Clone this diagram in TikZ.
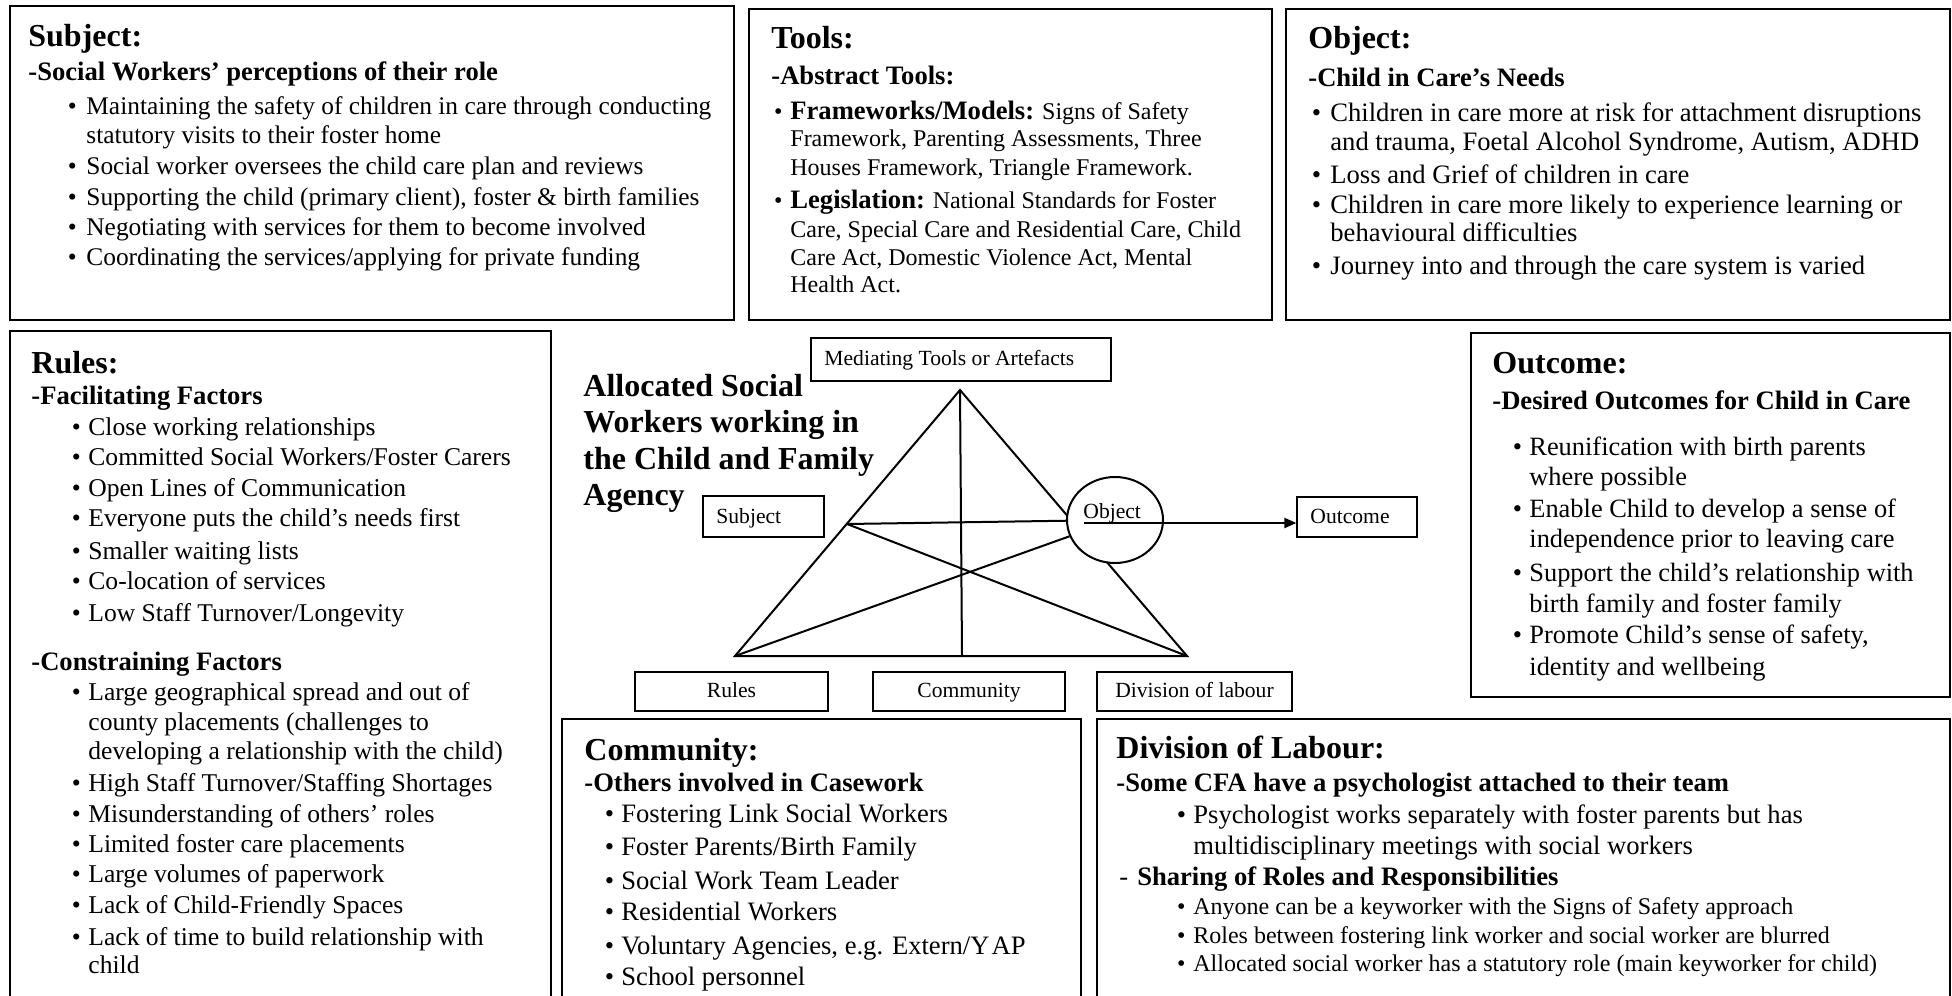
\documentclass[tikz,border=0pt]{standalone}
\usepackage{fontspec}
\setmainfont{Liberation Serif}
\usetikzlibrary{arrows.meta,shapes.geometric,fit}

\pgfdeclarelayer{background}
\pgfsetlayers{background,main}

% one picture unit
\newdimen\px \px=0.5pt
\newcommand{\fs}[1]{\fontsize{#1}{#1}\selectfont}
\newcommand{\hd}{\fs{16}\bfseries}
\newcommand{\sbt}{\fs{13.3}\bfseries}
% text line: gap to previous baseline, indent, content
\newcommand{\Ln}[3]{\vskip#1\px\hbox{\hskip#2\px\smash{#3}}}
% bulleted line: gap, bullet centre, text indent, content
\newcommand{\Bl}[4]{\vskip#1\px\hbox{\hskip#2\px\smash{\makebox[0pt]{\textbullet}}\hskip\dimexpr#3\px-#2\px\relax\smash{#4}}}
\newcommand{\Blk}[1]{\vtop{\offinterlineskip#1}}

\tikzset{
  bigbox/.style={draw, line width=1.1pt, inner sep=0pt},
  smallbox/.style={draw, line width=0.6pt, inner sep=0pt},
  tri/.style={line width=1pt},
  txt/.style={inner sep=0pt, anchor=base west},
  lbl/.style={inner sep=0pt, font=\fs{10.8}},
}

\begin{document}
\begin{tikzpicture}[x=0.5pt,y=-0.5pt,line join=miter]
\useasboundingbox (0,0) rectangle (1952,995);
\begin{pgfonlayer}{background}
\fill[white] (0,0) rectangle (1952,995);
\end{pgfonlayer}

\begin{scope}
\clip (0,0) rectangle (1952,995);
% ---------- frames ----------
\node[bigbox, fit={(10,6)(734,320)}] (subjbox) {};
\node[bigbox, fit={(749,9)(1272,320)}] (toolbox) {};
\node[bigbox, fit={(1286,9)(1950,320)}] (objbox) {};
\node[bigbox, fit={(10,331)(551,1010)}] (rulebox) {};
\node[bigbox, fit={(1471,333)(1950,697)}] (outbox) {};
\node[bigbox, fit={(562,719)(1081,1010)}] (commbox) {};
\node[bigbox, fit={(1097,719)(1950,1010)}] (divbox) {};
\end{scope}

% ---------- Subject ----------
\node[txt] (subjtext) at (28,47) {\Blk{\fs{12.7}
  \Ln{0}{0}{\hd Subject:}
  \Ln{34}{0}{\sbt -Social Workers’ perceptions of their role}
  \Bl{33}{44}{58}{Maintaining the safety of children in care through conducting}
  \Ln{29}{58}{statutory visits to their foster home}
  \Bl{31}{44}{58}{Social worker oversees the child care plan and reviews}
  \Bl{31}{44}{58}{Supporting the child (primary client), foster \& birth families}
  \Bl{30}{44}{58}{Negotiating with services for them to become involved}
  \Bl{30}{44}{58}{Coordinating the services/applying for private funding}
}};

% ---------- Tools ----------
\node[txt] (tooltext) at (771,49) {\Blk{\fs{12}
  \Ln{0}{0}{\hd Tools:}
  \Ln{36}{0}{\sbt -Abstract Tools:}
  \Bl{35}{7}{19}{{\sbt Frameworks/Models:} Signs of Safety}
  \Ln{27}{19}{Framework, Parenting Assessments, Three}
  \Ln{28}{19}{Houses Framework, Triangle Framework.}
  \Bl{34}{7}{19}{{\sbt Legislation:} National Standards for Foster}
  \Ln{28}{19}{Care, Special Care and Residential Care, Child}
  \Ln{28}{19}{Care Act, Domestic Violence Act, Mental}
  \Ln{27}{19}{Health Act.}
}};

% ---------- Object ----------
\node[txt] (objtext) at (1308,49) {\Blk{\fs{13.3}
  \Ln{0}{0}{\hd Object:}
  \Ln{38}{0}{\sbt -Child in Care’s Needs}
  \Bl{34}{8}{22}{Children in care more at risk for attachment disruptions}
  \Ln{30}{22}{and trauma, Foetal Alcohol Syndrome, Autism, ADHD}
  \Bl{32}{8}{22}{Loss and Grief of children in care}
  \Bl{30}{8}{22}{Children in care more likely to experience learning or}
  \Ln{29}{22}{behavioural difficulties}
  \Bl{32}{8}{22}{Journey into and through the care system is varied}
}};

% ---------- Rules ----------
\node[txt] (ruletext) at (31,373) {\Blk{\fs{12.8}
  \Ln{0}{0}{\hd Rules:}
  \Ln{31}{0}{\sbt -Facilitating Factors}
  \Bl{31}{45}{57}{Close working relationships}
  \Bl{30}{45}{57}{Committed Social Workers/Foster Carers}
  \Bl{31}{45}{57}{Open Lines of Communication}
  \Bl{30}{45}{57}{Everyone puts the child’s needs first}
  \Bl{33}{45}{57}{Smaller waiting lists}
  \Bl{30}{45}{57}{Co-location of services}
  \Bl{32}{45}{57}{Low Staff Turnover/Longevity}
  \Ln{49}{0}{\sbt -Constraining Factors}
  \Bl{30}{45}{57}{Large geographical spread and out of}
  \Ln{30}{57}{county placements (challenges to}
  \Ln{29}{57}{developing a relationship with the child)}
  \Bl{32}{45}{57}{High Staff Turnover/Staffing Shortages}
  \Bl{31}{45}{57}{Misunderstanding of others’ roles}
  \Bl{30}{45}{57}{Limited foster care placements}
  \Bl{30}{45}{57}{Large volumes of paperwork}
  \Bl{31}{45}{57}{Lack of Child-Friendly Spaces}
  \Bl{32}{45}{57}{Lack of time to build relationship with}
  \Ln{28}{57}{child}
}};

% ---------- Outcome ----------
\node[txt] (outtext) at (1492,373) {\Blk{\fs{13.2}
  \Ln{0}{0}{\hd Outcome:}
  \Ln{36}{0}{\sbt -Desired Outcomes for Child in Care}
  \Bl{46}{25}{37}{Reunification with birth parents}
  \Ln{30}{37}{where possible}
  \Bl{32}{25}{37}{Enable Child to develop a sense of}
  \Ln{30}{37}{independence prior to leaving care}
  \Bl{34}{25}{37}{Support the child’s relationship with}
  \Ln{31}{37}{birth family and foster family}
  \Bl{31}{25}{37}{Promote Child’s sense of safety,}
  \Ln{32}{37}{identity and wellbeing}
}};

% ---------- Community ----------
\node[txt] (commtext) at (584,760) {\Blk{\fs{13.3}
  \Ln{0}{0}{\hd Community:}
  \Ln{31}{0}{\sbt -Others involved in Casework}
  \Bl{31}{25}{37}{Fostering Link Social Workers}
  \Bl{33}{25}{37}{Foster Parents/Birth Family}
  \Bl{34}{25}{37}{Social Work Team Leader}
  \Bl{31}{25}{37}{Residential Workers}
  \Bl{34}{25}{37}{Voluntary Agencies, e.g. Extern/Y\kern1pt AP}
  \Bl{31}{25}{37}{School personnel}
}};

% ---------- Division of Labour ----------
\node[txt] (divtext) at (1116,758) {\Blk{\fs{13.3}
  \Ln{0}{0}{\hd Division of Labour:}
  \Ln{33}{0}{\sbt -Some CFA have a psychologist attached to their team}
  \Bl{32}{65}{77}{Psychologist works separately with foster parents but has}
  \Ln{31}{77}{multidisciplinary meetings with social workers}
  \Ln{31}{3}{-\hskip9\px{\bfseries Sharing of Roles and Responsibilities}}
  \fs{12}
  \Bl{29}{65}{77}{Anyone can be a keyworker with the Signs of Safety approach}
  \Bl{29}{65}{77}{Roles between fostering link worker and social worker are blurred}
  \Bl{28}{65}{77}{Allocated social worker has a statutory role (main keyworker for child)}
}};

% ---------- activity triangle ----------
\node[txt] (title) at (583,396) {\Blk{\fs{16}\bfseries
  \Ln{0}{0}{Allocated Social}
  \Ln{36}{0}{Workers working in}
  \Ln{37}{0}{the Child and Family}
  \Ln{36}{0}{Agency}
}};

\node[smallbox, fit={(811,338)(1111,381)}] (mtbox) {};
\node[smallbox, fit={(703,496)(824,537)}] (sbox) {};
\node[smallbox, fit={(1297,497)(1417,537)}] (obox) {};
\node[smallbox, fit={(635,672)(828,711)}] (rbox) {};
\node[smallbox, fit={(873,672)(1065,711)}] (cbox) {};
\node[smallbox, fit={(1097,672)(1292,711)}] (dbox) {};

\node[lbl, anchor=base west] (mtlbl) at (824,365) {Mediating Tools or Artefacts};
\node[lbl, anchor=base west] (slbl) at (716,523) {Subject};
\node[lbl, anchor=base west] (olbl) at (1310,523) {Outcome};
\node[lbl, anchor=base] (rlbl) at (731.5,697) {Rules};
\node[lbl, anchor=base] (clbl) at (969,697) {Community};
\node[lbl, anchor=base] (dlbl) at (1194.5,697) {Division of labour};

\coordinate (A) at (960,390);
\coordinate (BL) at (735,656);
\coordinate (BR) at (1187,656);
\coordinate (BM) at (962,656);
\coordinate (SP) at (847,524);

\node[draw, ellipse, fill=white, line width=1pt, minimum width=48pt, minimum height=43pt, inner sep=0pt] (obj) at (1115,520) {};
\node[lbl, anchor=base west] (objlbl) at (1083,518) {Object};

% triangle edges sit beneath the white-filled object ellipse
\begin{pgfonlayer}{background}
\draw[tri] (A) -- (BL) -- (BR) -- cycle;
\draw[tri] (A) -- (BM);
\draw[tri] (SP) -- (BR);
\draw[tri] (SP) -- (obj);
\draw[tri] (BL) -- (obj);
\end{pgfonlayer}

\coordinate (arrowstart) at (1084,523);
\draw[tri, -{Triangle[length=6pt,width=5pt]}] (arrowstart) -- (arrowstart -| obox.west);
\end{tikzpicture}
\end{document}
